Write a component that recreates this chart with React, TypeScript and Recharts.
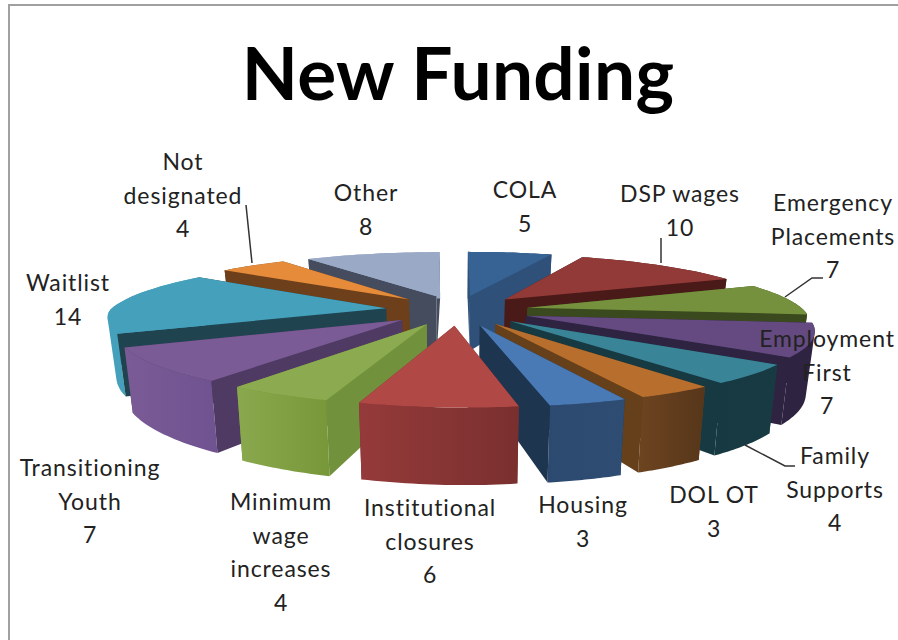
import { PieChart, Pie } from 'recharts';

const CATEGORIES = [
  'COLA', 'DSP wages', 'Emergency Placements', 'Employment First', 'Family Supports', 'DOL OT', 'Housing',
  'Institutional closures', 'Minimum wage increases', 'Transitioning Youth', 'Waitlist', 'Not designated', 'Other',
];
const VALUES = [5, 10, 7, 7, 4, 3, 3, 6, 4, 7, 14, 4, 8];

// back of the pie first, so nearer slices cover farther ones
const PAINT_ORDER = [12, 0, 1, 11, 10, 2, 3, 9, 4, 8, 5, 6, 7];

const TOP_COLORS = ['#376394', '#923a38', '#76913d', '#644a80', '#3a8498', '#b86e2c', '#4a7ab5', '#b04845', '#8cab50', '#7a5b96', '#45a0bb', '#e58b3a', '#9aa9c6'];
const SIDE_COLORS = ['#2f5078', '#4a1a18', '#3a4a1e', '#2e2340', '#173a42', '#65401b', '#1e3550', '#7a2f2f', '#72913c', '#4e3a62', '#1f4450', '#6d3f1a', '#454c5e'];
const RIM_LEFT = ['#2f5078', '#4a1a18', '#3a4a1e', '#2e2340', '#173a42', '#6e4420', '#2c4a70', '#953a3a', '#8aa94e', '#7a5b96', '#45a0bb', '#6d3f1a', '#9aa9c6'];
const RIM_RIGHT = ['#2f5078', '#4a1a18', '#3a4a1e', '#2e2340', '#183a42', '#56361a', '#2f4d73', '#7a2f2f', '#789739', '#6f5290', '#45a0bb', '#6d3f1a', '#9aa9c6'];

// label layout: centre x, first line centre y
const LABEL_LINES = [
  ['COLA'], ['DSP wages'], ['Emergency', 'Placements'], ['Employment', 'First'], ['Family', 'Supports'], ['DOL OT'], ['Housing'],
  ['Institutional', 'closures'], ['Minimum', 'wage', 'increases'], ['Transitioning', 'Youth'], ['Waitlist'], ['Not', 'designated'], ['Other'],
];
const LABEL_POS = [
  [525, 189], [680, 193], [833, 202], [827, 338], [835, 455], [714, 494], [583, 504],
  [430, 507], [281, 501], [90, 467], [68, 282], [183, 161], [366, 192],
];
const LEADERS = [
  '246,205 252,263',
  '661,238 661,263',
  '785,297 812,278 823,278',
  '745,445 785,466 795,466',
];

const rows = CATEGORIES.map((name, i) => ({ name, value: VALUES[i] }));

const EXPLODE = 0.26;
const PERSPECTIVE = 0.2;
const TILT = 0.21;
const DEPTH = 58;
const SKEW = 12;

type Pt = [number, number];

const project = (cx: number, cy: number, r: number, gx: number, gv: number, lowered = false): Pt => {
  const s = 1 / (1 - PERSPECTIVE * gv);
  const x = gx * r * s + SKEW * Math.max(gv, 0) * (1 - gx);
  const y = TILT * r * gv * s;
  if (lowered) return [cx + x * 0.975, cy + y + DEPTH * s];
  return [cx + x, cy + y];
};

const toPath = (pts: Pt[]) => 'M' + pts.map((p) => `${p[0].toFixed(1)},${p[1].toFixed(1)}`).join('L') + 'Z';

// same winding for every strip, otherwise folded parts of the rim cancel out
const quadPath = (a: Pt, b: Pt, c: Pt, d: Pt) => {
  const pts = [a, b, c, d];
  let area = 0;
  pts.forEach((p, i) => {
    const q = pts[(i + 1) % 4];
    area += p[0] * q[1] - q[0] * p[1];
  });
  return toPath(area < 0 ? pts.slice().reverse() : pts);
};

const Slice3D = (props: any) => {
  const { cx, cy, outerRadius: r, startAngle, endAngle, index } = props;
  const rad = Math.PI / 180;
  // recharts angles are counter-clockwise from east; ground x right, v toward the viewer
  const ground = (deg: number): Pt => [Math.cos(deg * rad), -Math.sin(deg * rad)];
  const mid = ground((startAngle + endAngle) / 2);
  const ox = mid[0] * EXPLODE;
  const ov = mid[1] * EXPLODE;

  const arc: Pt[] = [];
  const steps = 24;
  for (let i = 0; i <= steps; i++) {
    const g = ground(startAngle + ((endAngle - startAngle) * i) / steps);
    arc.push([g[0] + ox, g[1] + ov]);
  }
  const up = (g: Pt) => project(cx, cy, r, g[0], g[1]);
  const down = (g: Pt) => project(cx, cy, r, g[0], g[1], true);
  const tip: Pt = [ox, ov];
  const first = arc[0];
  const last = arc[steps];

  const rim = arc
    .slice(0, steps)
    .map((g, i) => quadPath(up(g), up(arc[i + 1]), down(arc[i + 1]), down(g)))
    .join('');

  const faces = [
    { v: first[1], d: toPath([up(tip), up(first), down(first), down(tip)]), fill: SIDE_COLORS[index] },
    { v: last[1], d: toPath([up(tip), up(last), down(last), down(tip)]), fill: SIDE_COLORS[index] },
    { v: mid[1] + ov, d: rim, fill: `url(#rim-${index})` },
  ].sort((a, b) => a.v - b.v);

  return (
    <g>
      {faces.map((f, i) => (
        <path key={i} d={f.d} fill={f.fill} />
      ))}
      <path d={toPath([up(tip), ...arc.map(up)])} fill={TOP_COLORS[index]} />
    </g>
  );
};

export default function App() {
  return (
    <div style={{ position: 'absolute', left: 0, top: 0, width: 898, height: 640, background: '#fff' }}>
      <PieChart width={898} height={640} margin={{ top: 0, right: 0, bottom: 0, left: 0 }}>
        <defs>
          {CATEGORIES.map((_, i) => (
            <linearGradient key={i} id={`rim-${i}`} x1="0" y1="0" x2="1" y2="0">
              <stop offset="0%" stopColor={RIM_LEFT[i]} />
              <stop offset="100%" stopColor={RIM_RIGHT[i]} />
            </linearGradient>
          ))}
        </defs>
        {PAINT_ORDER.map((target) => (
          <Pie
            key={target}
            data={rows}
            dataKey="value"
            nameKey="name"
            cx={457}
            cy={310}
            innerRadius={0}
            outerRadius={276}
            startAngle={90}
            endAngle={-270}
            stroke="none"
            isAnimationActive={false}
            shape={(p: any) => (p.index === target ? <Slice3D {...p} /> : <g />)}
          />
        ))}
      </PieChart>
      {/* labels go in their own layer, the chart paints its series above its other children */}
      <svg width={898} height={640} style={{ position: 'absolute', left: 0, top: 0 }}>
        <line x1={8} y1={5} x2={898} y2={5} stroke="#a0a0a0" strokeWidth={2} />
        <line x1={9} y1={5} x2={9} y2={640} stroke="#a0a0a0" strokeWidth={2} />
        <text x={458} y={100} textAnchor="middle" fontFamily="Lato" fontWeight={700} fontSize={73} letterSpacing={0.3} fill="#000">
          New Funding
        </text>
        {LEADERS.map((pts) => (
          <polyline key={pts} points={pts} fill="none" stroke="#333" strokeWidth={1.5} />
        ))}
        {CATEGORIES.map((name, i) => {
          const lines = [...LABEL_LINES[i], String(VALUES[i])];
          return (
            <text key={name} fontFamily="Lato" fontSize={23} letterSpacing={0.9} fill="#222" textAnchor="middle" dominantBaseline="central">
              {lines.map((line, j) => (
                <tspan key={j} x={LABEL_POS[i][0]} y={LABEL_POS[i][1] + j * 33.5}>
                  {line}
                </tspan>
              ))}
            </text>
          );
        })}
      </svg>
    </div>
  );
}
